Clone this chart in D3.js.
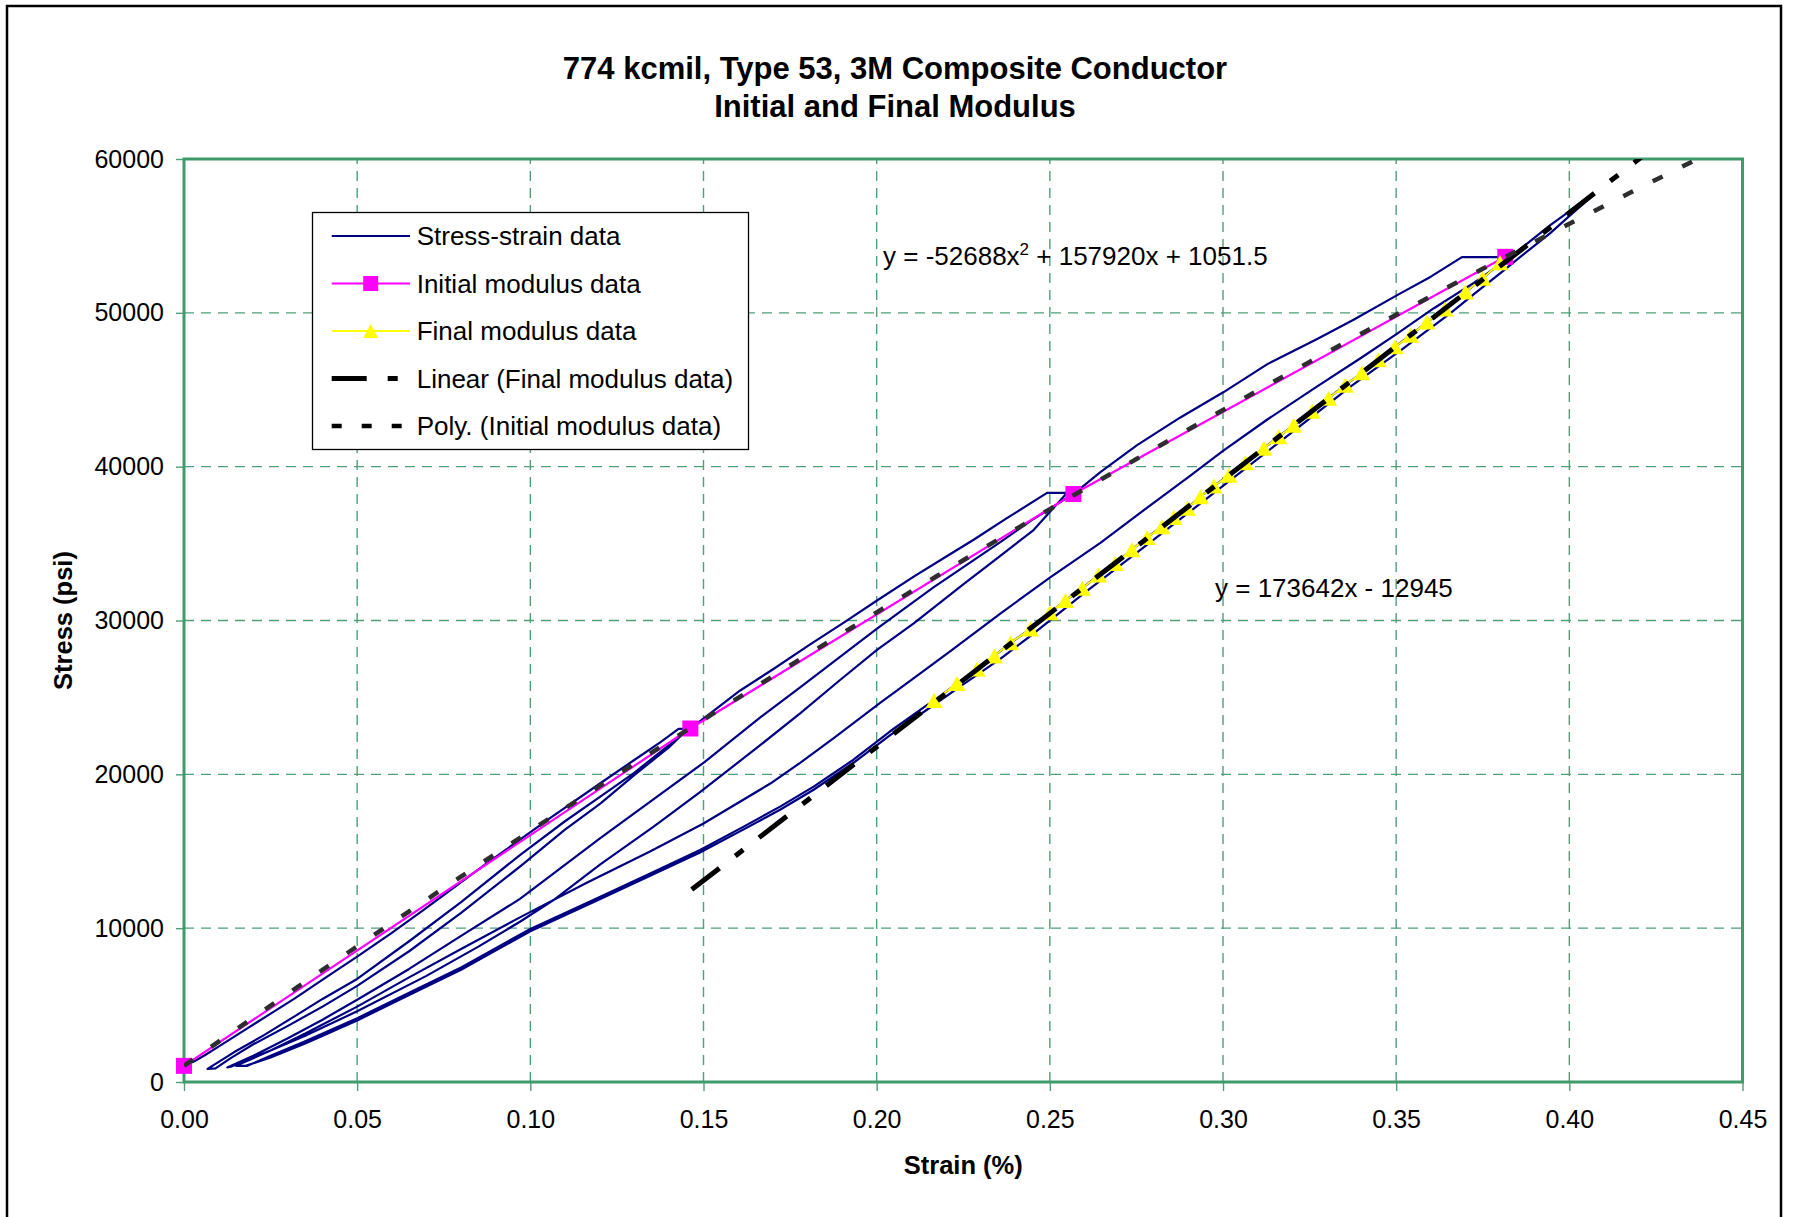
<!DOCTYPE html>
<html>
<head>
<meta charset="utf-8">
<script src="https://cdn.jsdelivr.net/npm/d3@7"></script>
<style>
  html, body { margin: 0; padding: 0; background: #ffffff; }
  svg { display: block; }
</style>
</head>
<body>
<svg id="chart" width="1794" height="1217"></svg>
<script>
// ---------- Tick values ----------
const strainTicks = [0, 0.05, 0.10, 0.15, 0.20, 0.25, 0.30, 0.35, 0.40, 0.45];
const stressTicks = [0, 10000, 20000, 30000, 40000, 50000, 60000];

// ---------- Stress-strain record, one segment per loading stage: [strain %, stress psi] ----------
const loadToFirstHold = [
  [0, 1050], [0.003, 1350], [0.006, 1740], [0.011, 2450], [0.016, 3160], [0.024, 4300],
  [0.032, 5440], [0.041, 6800], [0.05, 8150], [0.06, 9700], [0.069, 11150], [0.078, 12650],
  [0.087, 14150], [0.097, 15750], [0.106, 17200], [0.1202, 19420], [0.1298, 20900],
  [0.1375, 22080], [0.1428, 22950], [0.1455, 22950]
];
const firstUnload = [
  [0.1455, 22950], [0.14, 21750], [0.13, 19950], [0.1202, 18100], [0.11, 16400], [0.097, 14000],
  [0.08, 11000], [0.065, 8500], [0.05, 6250], [0.04, 4900], [0.03, 3650], [0.02, 2450],
  [0.0135, 1550], [0.0091, 880]
];
const firstReload = [
  [0.0068, 850], [0.0144, 1930], [0.0231, 3050], [0.0318, 4250], [0.04, 5400], [0.05, 6700],
  [0.065, 9150], [0.08, 11700], [0.097, 14750], [0.11, 16950], [0.1202, 18550], [0.13, 20100],
  [0.1375, 21450], [0.1462, 22980]
];
const loadToSecondHold = [
  [0.1481, 23300], [0.1606, 25450], [0.1702, 26850], [0.1808, 28450], [0.1904, 29850],
  [0.2001, 31300], [0.2107, 32850], [0.2193, 34050], [0.2280, 35250], [0.2376, 36650],
  [0.2492, 38300], [0.2550, 38300]
];
const secondUnload = [
  [0.2550, 38300], [0.2453, 35880], [0.2357, 34200], [0.2250, 32350], [0.2107, 29813],
  [0.2000, 28080], [0.1890, 26050], [0.1779, 23963], [0.1650, 21650], [0.1490, 18850],
  [0.1356, 16600], [0.1202, 14150], [0.1067, 11830], [0.097, 10420], [0.085, 8800],
  [0.07, 6900], [0.05, 4600], [0.035, 3000], [0.025, 2050], [0.0135, 1000]
];
const secondReload = [
  [0.0125, 950], [0.02, 1700], [0.03, 2850], [0.04, 4050], [0.05, 5350], [0.065, 7350],
  [0.08, 9500], [0.097, 11900], [0.1202, 15850], [0.1375, 18700], [0.15, 20750],
  [0.1664, 23700], [0.1779, 25650], [0.2, 29450], [0.2164, 32150], [0.2357, 35100],
  [0.2453, 36600], [0.2569, 38250]
];
const loadToThirdHold = [
  [0.2600, 38800], [0.2646, 39650], [0.2752, 41400], [0.2877, 43200], [0.3002, 44850],
  [0.3127, 46650], [0.3272, 48300], [0.3377, 49550], [0.3503, 51150], [0.3600, 52350],
  [0.3690, 53620], [0.3795, 53620]
];
// the upper part of the third unloading is the final-modulus data below
const thirdUnloadTail = [
  [0.2145, 24500], [0.2039, 22800], [0.1933, 20950], [0.1818, 19200], [0.1721, 17900],
  [0.1616, 16600], [0.149, 15080], [0.1346, 13560], [0.1202, 12050], [0.1, 9950],
  [0.08, 7450], [0.065, 5800], [0.05, 4150], [0.035, 2650], [0.025, 1700], [0.0183, 1050]
];
const thirdReload = [
  [0.015, 1050], [0.025, 2050], [0.035, 3150], [0.05, 4900], [0.065, 6800], [0.08, 8650],
  [0.097, 10700], [0.1163, 12950], [0.1347, 15000], [0.15, 16800], [0.1693, 19400],
  [0.1779, 20750], [0.1876, 22350], [0.2010, 24650], [0.2125, 26550], [0.2212, 28000],
  [0.2357, 30450], [0.2501, 32800], [0.2646, 35050], [0.2761, 37000], [0.2902, 39350],
  [0.2998, 41000], [0.3127, 43050], [0.3271, 45200], [0.3397, 47050], [0.3503, 48650],
  [0.3609, 50300], [0.3724, 51950], [0.383, 53600], [0.3878, 54500], [0.3945, 55700],
  [0.4003, 56650], [0.4066, 57600]
];
const finalUnload = [
  [0.4066, 57600], [0.4003, 56350], [0.3945, 55185], [0.3873, 53900], [0.3801, 52585],
  [0.3729, 51300], [0.3657, 49985], [0.3512, 47550], [0.3368, 45200], [0.3200, 42250],
  [0.3000, 38750], [0.2800, 35250], [0.2600, 31800], [0.2450, 29100], [0.2357, 27500],
  [0.2250, 25850], [0.2145, 24200], [0.2039, 22550], [0.1933, 20750], [0.1818, 19000],
  [0.1721, 17700], [0.1616, 16420], [0.149, 14920], [0.1346, 13400], [0.1202, 11900],
  [0.1, 9800], [0.08, 7300], [0.065, 5650], [0.05, 4000], [0.035, 2500], [0.025, 1600],
  [0.0178, 1050]
];

// ---------- Initial modulus data (hold points) ----------
const initialStrain = [0, 0.1462, 0.2568, 0.3815];
const initialStress = [1050, 22980, 38220, 53640];

// ---------- Final modulus data (final unloading) ----------
const finalStrain = [
  0.2166, 0.2232, 0.2290, 0.2340, 0.2387, 0.2444, 0.2500, 0.2545, 0.2594, 0.2641,
  0.2689, 0.2737, 0.2781, 0.2824, 0.2858, 0.2897, 0.2935, 0.2974, 0.3017, 0.3065,
  0.3118, 0.3161, 0.3204, 0.3257, 0.3305, 0.3353, 0.3401, 0.3449, 0.3497, 0.3542,
  0.3589, 0.3641, 0.3700, 0.3750, 0.3800
];
const finalStress = [
  24800, 25900, 26850, 27700, 28550, 29450, 30500, 31300, 32100, 32950,
  33700, 34600, 35400, 36100, 36700, 37300, 38050, 38750, 39450, 40250,
  41200, 41950, 42700, 43600, 44450, 45300, 46100, 46950, 47800, 48550,
  49400, 50250, 51350, 52250, 53250
];

// ---------- Trendlines (Excel fits) ----------
const polyCoef = [-52688, 157920, 1051.5];   // y = a x^2 + b x + c
const linearCoef = [173642, -12945];         // y = m x + k
const polyRange = [0, 0.4515];
const linearRange = [0.1466, 0.45];

// ---------- Texts ----------
const titleLines = ["774 kcmil, Type 53, 3M Composite Conductor", "Initial and Final Modulus"];
const xTitle = "Strain (%)";
const yTitle = "Stress (psi)";
const legendLabels = ["Stress-strain data", "Initial modulus data", "Final modulus data",
  "Linear (Final modulus data)", "Poly. (Initial modulus data)"];

// ================= drawing =================
const FONT = '"Liberation Sans", Arial, Helvetica, sans-serif';
const GRID = "#4f9f78";
const AXIS = "#3f9a6c";
const NAVY = "#000080";
const MAGENTA = "#ff00ff";
const YELLOW = "#ffff00";

const svg = d3.select("#chart").attr("font-family", FONT);
const plot = { left: 184, right: 1742.5, top: 159, bottom: 1082 };

const x = d3.scaleLinear().domain([0, 0.45]).range([plot.left, plot.right]);
const y = d3.scaleLinear().domain([0, 60000]).range([plot.bottom, plot.top]);

svg.append("rect").attr("width", 1794).attr("height", 1217).attr("fill", "#fff");

// chart-area frame
svg.append("rect")
  .attr("x", 7).attr("y", 6).attr("width", 1774).attr("height", 1240)
  .attr("fill", "none").attr("stroke", "#000").attr("stroke-width", 2.5);

// title
svg.append("g").selectAll("text").data(titleLines).join("text")
  .attr("x", 895).attr("y", (d, i) => 78.5 + i * 38.5)
  .attr("text-anchor", "middle").attr("font-size", 31).attr("font-weight", "bold")
  .text(d => d);

// clip for lines
svg.append("clipPath").attr("id", "plotClip")
  .append("rect").attr("x", plot.left).attr("y", plot.top)
  .attr("width", plot.right - plot.left).attr("height", plot.bottom - plot.top);

// gridlines
const grid = svg.append("g").attr("stroke", GRID).attr("stroke-width", 1.4)
  .attr("stroke-dasharray", "10,7");
grid.selectAll(".vg").data(strainTicks.slice(1, -1)).join("line")
  .attr("x1", d => x(d)).attr("x2", d => x(d)).attr("y1", plot.bottom).attr("y2", plot.top);
grid.selectAll(".hg").data(stressTicks.slice(1, -1)).join("line")
  .attr("x1", plot.left).attr("x2", plot.right).attr("y1", d => y(d)).attr("y2", d => y(d));

// axes
const xAxis = svg.append("g").attr("transform", `translate(0,${plot.bottom})`)
  .call(d3.axisBottom(x).tickValues(strainTicks).tickFormat(d3.format(".2f")).tickSizeInner(9).tickSizeOuter(0));
const yAxis = svg.append("g").attr("transform", `translate(${plot.left},0)`)
  .call(d3.axisLeft(y).tickValues(stressTicks).tickFormat(d3.format("d")).tickSizeInner(8).tickSizeOuter(0).tickPadding(12));
[xAxis, yAxis].forEach(g => {
  g.select(".domain").remove();
  g.selectAll(".tick line").attr("stroke", GRID).attr("stroke-width", 1.4);
  g.selectAll(".tick text").attr("font-size", 25).attr("font-family", FONT).attr("fill", "#000");
});
xAxis.selectAll(".tick text").attr("y", 46).attr("dy", null);

// plot-area border
svg.append("rect")
  .attr("x", plot.left).attr("y", plot.top)
  .attr("width", plot.right - plot.left).attr("height", plot.bottom - plot.top)
  .attr("fill", "none").attr("stroke", AXIS).attr("stroke-width", 3);

// axis titles
svg.append("text").attr("x", (plot.left + plot.right) / 2).attr("y", 1174)
  .attr("text-anchor", "middle").attr("font-size", 25.5).attr("font-weight", "bold").text(xTitle);
svg.append("text").attr("transform", `translate(72,${(plot.top + plot.bottom) / 2}) rotate(-90)`)
  .attr("text-anchor", "middle").attr("font-size", 25.5).attr("font-weight", "bold").text(yTitle);

const line = d3.line().x(d => x(d[0])).y(d => y(d[1]));

// stress-strain record as one continuous series
const finalPairs = finalStrain.map((s, i) => [s, finalStress[i]]);
const stressStrain = [].concat(
  loadToFirstHold, firstUnload, firstReload, loadToSecondHold, secondUnload, secondReload,
  loadToThirdHold, finalPairs.slice().reverse(), thirdUnloadTail, thirdReload, finalUnload
);
svg.append("path").datum(stressStrain).attr("d", line)
  .attr("fill", "none").attr("stroke", NAVY).attr("stroke-width", 2.2).attr("stroke-linejoin", "round");

// initial modulus series
const initialPairs = initialStrain.map((s, i) => [s, initialStress[i]]);
svg.append("path").datum(initialPairs).attr("d", line)
  .attr("fill", "none").attr("stroke", MAGENTA).attr("stroke-width", 2.2);
svg.append("g").selectAll("rect").data(initialPairs).join("rect")
  .attr("x", d => x(d[0]) - 8).attr("y", d => y(d[1]) - 8)
  .attr("width", 16).attr("height", 16).attr("fill", MAGENTA);

// final modulus series
const tri = (cx, cy, w, h) => `M${cx},${cy - h / 2}L${cx + w / 2},${cy + h / 2}L${cx - w / 2},${cy + h / 2}Z`;
svg.append("path").datum(finalPairs).attr("d", line)
  .attr("fill", "none").attr("stroke", YELLOW).attr("stroke-width", 1.8);
svg.append("g").selectAll("path").data(finalPairs).join("path")
  .attr("d", d => tri(x(d[0]), y(d[1]), 17, 15)).attr("fill", YELLOW);

// trendlines
const trend = svg.append("g").attr("clip-path", "url(#plotClip)").attr("fill", "none");
const linPts = linearRange.map(v => [v, linearCoef[0] * v + linearCoef[1]]);
trend.append("path").datum(linPts).attr("d", line)
  .attr("stroke", "#000").attr("stroke-width", 5).attr("stroke-dasharray", "35,20,10,20");
const polySteps = d3.range(polyRange[0], polyRange[1] + 1e-9, 0.0025);
const polyPts = polySteps.map(v => [v, polyCoef[0] * v * v + polyCoef[1] * v + polyCoef[2]]);
trend.append("path").datum(polyPts).attr("d", line)
  .attr("stroke", "#2e2e2e").attr("stroke-width", 4.5).attr("stroke-dasharray", "11,22");

// trendline equations
const eq1 = svg.append("text").attr("x", 883).attr("y", 265).attr("font-size", 26);
eq1.append("tspan").text("y = -52688x");
eq1.append("tspan").attr("font-size", 17).attr("dy", -10).text("2");
eq1.append("tspan").attr("dy", 10).text(" + 157920x + 1051.5");
svg.append("text").attr("x", 1215).attr("y", 597).attr("font-size", 26)
  .text("y = 173642x - 12945");

// legend
const lg = svg.append("g");
lg.append("rect").attr("x", 312.5).attr("y", 212.5).attr("width", 436).attr("height", 237)
  .attr("fill", "#fff").attr("stroke", "#000").attr("stroke-width", 1.3);
const rowY = i => 236 + i * 47.5;
const sx0 = 331.7, sx1 = 410, mx = 370.7;
lg.append("line").attr("x1", sx0).attr("x2", sx1).attr("y1", rowY(0)).attr("y2", rowY(0))
  .attr("stroke", NAVY).attr("stroke-width", 2.2);
lg.append("line").attr("x1", sx0).attr("x2", sx1).attr("y1", rowY(1)).attr("y2", rowY(1))
  .attr("stroke", MAGENTA).attr("stroke-width", 2.2);
lg.append("rect").attr("x", mx - 7.5).attr("y", rowY(1) - 7.5).attr("width", 15).attr("height", 15)
  .attr("fill", MAGENTA);
lg.append("line").attr("x1", sx0).attr("x2", sx1).attr("y1", rowY(2)).attr("y2", rowY(2))
  .attr("stroke", YELLOW).attr("stroke-width", 2.2);
lg.append("path").attr("d", tri(mx, rowY(2), 15, 14)).attr("fill", YELLOW);
lg.append("line").attr("x1", sx0).attr("x2", sx1).attr("y1", rowY(3)).attr("y2", rowY(3))
  .attr("stroke", "#000").attr("stroke-width", 5).attr("stroke-dasharray", "35,21,10,21");
lg.append("line").attr("x1", sx0).attr("x2", sx1).attr("y1", rowY(4)).attr("y2", rowY(4))
  .attr("stroke", "#000").attr("stroke-width", 4.5).attr("stroke-dasharray", "10,20");
lg.selectAll("text").data(legendLabels).join("text")
  .attr("x", 416.7).attr("y", (d, i) => rowY(i) + 9).attr("font-size", 26).text(d => d);
</script>
</body>
</html>
